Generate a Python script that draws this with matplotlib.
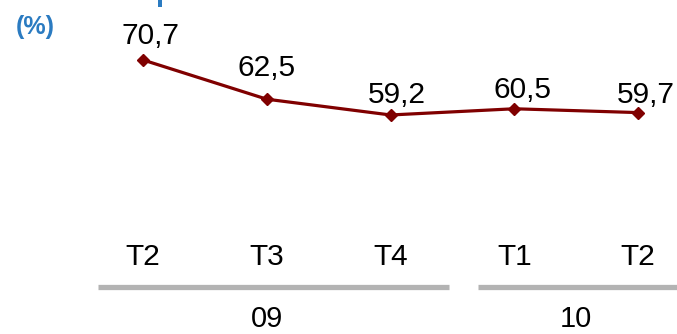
import matplotlib.pyplot as plt
import matplotlib.transforms as mtransforms
from matplotlib.patches import Rectangle

quarters = ["T2", "T3", "T4", "T1", "T2"]
years = ["09", "10"]
year_groups = [[0, 1, 2], [3, 4]]
values = [70.7, 62.5, 59.2, 60.5, 59.7]

# label nudges in pixels (dx, dy) above each point
label_dx = [7, 0, 6, 8, 8]
label_dy = [16, 23, 12, 11, 10]

RED = "#800000"
BLUE = "#2b7bc1"
GREY = "#b3b3b3"

plt.rcParams["font.family"] = ["Liberation Sans", "DejaVu Sans"]

fig = plt.figure(figsize=(6.77, 3.34), dpi=100)
ax = fig.add_axes([0, 0, 1, 1])
ax.set_xlim(-1.156, 4.315)
ax.set_ylim(13.41, 83.24)
ax.axis("off")

x = list(range(len(values)))
ax.plot(x, values, color=RED, lw=2.3, marker="D", ms=6.5,
        markerfacecolor=RED, markeredgecolor=RED, zorder=3)

for i, v in enumerate(values):
    ax.annotate(f"{v:.1f}".replace(".", ","), (i, v),
                xytext=(label_dx[i] * 0.72, label_dy[i] * 0.72),
                textcoords="offset points", ha="center", va="baseline",
                fontsize=21.5, color="black")

# quarter labels and year brackets below the line
trans = mtransforms.blended_transform_factory(ax.transData, ax.transAxes)
for i, q in enumerate(quarters):
    ax.text(i, 1 - 265 / 334, q, transform=trans, ha="center",
            va="baseline", fontsize=21.5)

bar_y = 1 - 287 / 334
spans = [(-0.364, 2.473), (2.707, 4.4)]
for (x0, x1), grp, yr in zip(spans, year_groups, years):
    ax.plot([x0, x1], [bar_y, bar_y], transform=trans, color=GREY,
            lw=3.8, solid_capstyle="butt", clip_on=False)
    xc = sum(grp) / len(grp)
    ax.text(xc, 1 - 319 / 334, yr, transform=trans, ha="center",
            va="center", fontsize=21)

fig.text(35 / 677, 1 - 27 / 334, "(%)", color=BLUE, fontsize=18,
         fontweight="bold", ha="center", va="center")
# tail of the title that sits above the frame
fig.patches.append(Rectangle((158 / 677, 1 - 7 / 334), 4 / 677, 7 / 334,
                             transform=fig.transFigure, color=BLUE,
                             lw=0))

fig.savefig("out.png", dpi=100)
